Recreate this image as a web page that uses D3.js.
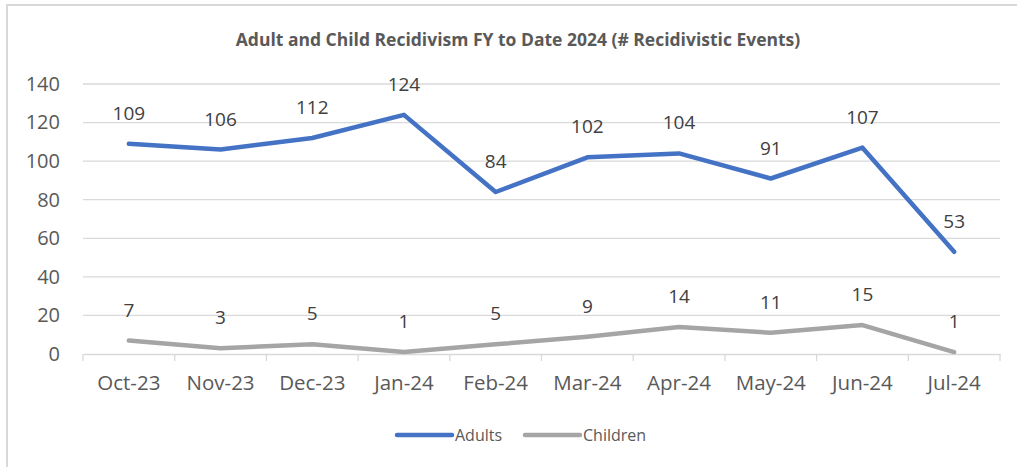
<!DOCTYPE html>
<html>
<head>
<meta charset="utf-8">
<script src="https://cdn.jsdelivr.net/npm/d3@7"></script>
<style>
  body { margin: 0; background: #fff; }
  text { font-family: "Open Sans", "Liberation Sans", sans-serif; }
</style>
</head>
<body>
<script>
// chart values
const months = ['Oct-23', 'Nov-23', 'Dec-23', 'Jan-24', 'Feb-24', 'Mar-24', 'Apr-24', 'May-24', 'Jun-24', 'Jul-24'];
const adults = [109, 106, 112, 124, 84, 102, 104, 91, 107, 53];
const children = [7, 3, 5, 1, 5, 9, 14, 11, 15, 1];
const yTicks = [0, 20, 40, 60, 80, 100, 120, 140];

const W = 1017, H = 467;
const margin = { top: 84, right: 17, bottom: 113, left: 83 };
const width = W - margin.left - margin.right;
const height = H - margin.top - margin.bottom;

const svg = d3.select('body').append('svg')
  .attr('width', W)
  .attr('height', H);

// frame (top and left edges only show in the picture)
svg.append('line').attr('x1', 6).attr('x2', W).attr('y1', 5).attr('y2', 5)
  .style('stroke', '#d9d9d9').style('stroke-width', 2);
svg.append('line').attr('x1', 7).attr('x2', 7).attr('y1', 4).attr('y2', H)
  .style('stroke', '#d9d9d9').style('stroke-width', 2);

// title
svg.append('text')
  .attr('x', 518)
  .attr('y', 46)
  .attr('text-anchor', 'middle')
  .style('font-size', '17.5px')
  .style('font-weight', 'bold')
  .style('fill', '#595959')
  .text('Adult and Child Recidivism FY to Date 2024 (# Recidivistic Events)');

const g = svg.append('g')
  .attr('transform', 'translate(' + margin.left + ',' + margin.top + ')');

const xScale = d3.scaleBand().domain(months).range([0, width]);
const yScale = d3.scaleLinear().domain([0, 140]).range([height, 0]);

// gridlines
g.selectAll('.grid')
  .data(yTicks.filter(d => d > 0))
  .enter().append('line')
  .attr('x1', 0).attr('x2', width)
  .attr('y1', d => yScale(d)).attr('y2', d => yScale(d))
  .style('stroke', '#d9d9d9').style('stroke-width', 1.3);

// y axis
const yAxis = g.append('g')
  .call(d3.axisLeft(yScale).tickValues(yTicks).tickSize(0).tickPadding(23));
yAxis.select('.domain').remove();
yAxis.selectAll('text')
  .style('font-size', '20px')
  .style('fill', '#595959')
  .style('font-family', '"Open Sans", sans-serif');

// x axis
const xAxis = g.append('g')
  .attr('transform', 'translate(0,' + height + ')')
  .call(d3.axisBottom(xScale).tickSize(0).tickPadding(21));
xAxis.select('.domain').style('stroke', '#d9d9d9').style('stroke-width', 1.3);
xAxis.selectAll('text')
  .style('font-size', '20.5px')
  .style('fill', '#595959')
  .style('font-family', '"Open Sans", sans-serif');

// category tick marks at band boundaries
g.selectAll('.xtick')
  .data(d3.range(months.length + 1))
  .enter().append('line')
  .attr('x1', i => i * xScale.step()).attr('x2', i => i * xScale.step())
  .attr('y1', height).attr('y2', height + 7)
  .style('stroke', '#d9d9d9').style('stroke-width', 1.3);

const cx = (d, i) => xScale(months[i]) + xScale.bandwidth() / 2;

const line = d3.line()
  .x(cx)
  .y(d => yScale(d));

const series = [
  { name: 'Adults', values: adults, color: '#4472C4' },
  { name: 'Children', values: children, color: '#A5A5A5' }
];

series.forEach(function (s) {
  g.append('path')
    .datum(s.values)
    .attr('d', line)
    .style('fill', 'none')
    .style('stroke', s.color)
    .style('stroke-width', 4.5)
    .style('stroke-linecap', 'round')
    .style('stroke-linejoin', 'round');

  g.selectAll('.lbl-' + s.name)
    .data(s.values)
    .enter().append('text')
    .attr('x', cx)
    .attr('y', d => yScale(d) - 24)
    .attr('text-anchor', 'middle')
    .style('font-size', '19px')
    .style('fill', '#404040')
    .text(d => d);
});

// legend
const legend = svg.append('g');
const legendItems = [
  { name: 'Adults', color: '#4472C4', x: 397 },
  { name: 'Children', color: '#A5A5A5', x: 525 }
];
legendItems.forEach(function (l) {
  legend.append('line')
    .attr('x1', l.x).attr('x2', l.x + 55)
    .attr('y1', 435).attr('y2', 435)
    .style('stroke', l.color)
    .style('stroke-width', 4.5)
    .style('stroke-linecap', 'round');
  legend.append('text')
    .attr('x', l.x + 58)
    .attr('y', 441)
    .style('font-size', '16px')
    .style('fill', '#595959')
    .text(l.name);
});
</script>
</body>
</html>
